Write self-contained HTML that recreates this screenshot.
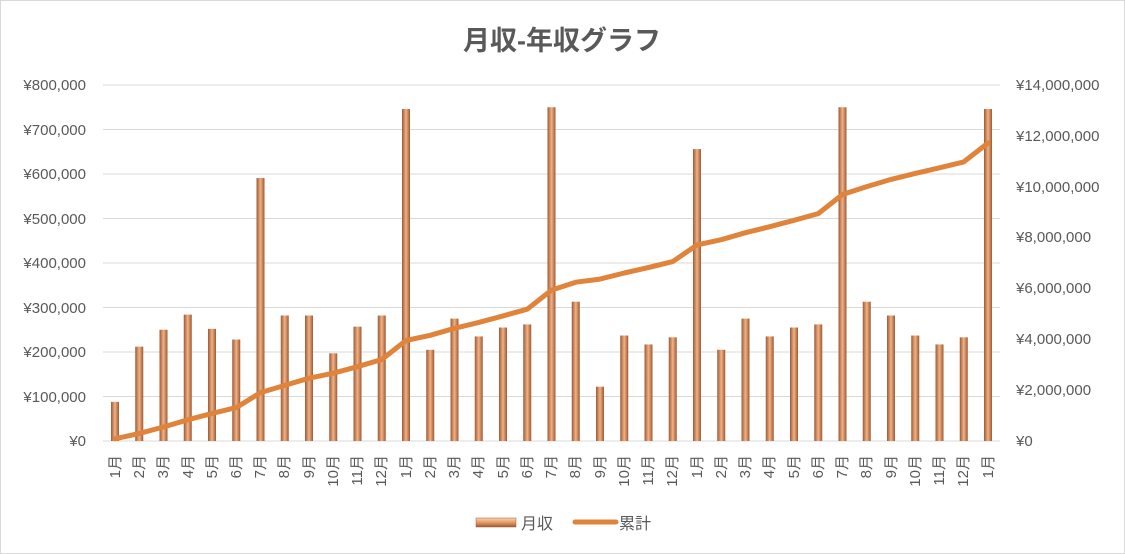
<!DOCTYPE html>
<html><head><meta charset="utf-8"><style>
body{margin:0;background:#fff}
svg{display:block;font-family:"Liberation Sans","Noto Sans CJK JP",sans-serif}
</style></head><body>
<svg id="c" width="1125" height="554" viewBox="0 0 1125 554" xmlns="http://www.w3.org/2000/svg">
<defs>
<linearGradient id="bg" x1="0" x2="1" y1="0" y2="0">
<stop offset="0" stop-color="#9a5a35"/><stop offset="0.5" stop-color="#f4b183"/><stop offset="1" stop-color="#9a5a35"/>
</linearGradient>
<linearGradient id="lg" x1="0" x2="0" y1="0" y2="1">
<stop offset="0" stop-color="#fbd3b0"/><stop offset="0.5" stop-color="#e59a66"/><stop offset="1" stop-color="#9a5a35"/>
</linearGradient>
</defs>
<rect x="0.5" y="0.5" width="1124" height="553" fill="#fff" stroke="#d9d9d9"/>
<text x="562" y="50" text-anchor="middle" font-size="27" font-weight="bold" fill="#595959">月収-年収グラフ</text>
<g id="grid" stroke="#d9d9d9" stroke-width="1"></g>
<g font-size="15" fill="#595959" text-anchor="end">
<text x="86" y="446">¥0</text><text x="86" y="402">¥100,000</text><text x="86" y="357">¥200,000</text><text x="86" y="313">¥300,000</text><text x="86" y="268">¥400,000</text><text x="86" y="224">¥500,000</text><text x="86" y="179">¥600,000</text><text x="86" y="135">¥700,000</text><text x="86" y="90">¥800,000</text>
</g>
<g font-size="15" fill="#595959" text-anchor="start">
<text x="1016" y="446">¥0</text><text x="1016" y="395">¥2,000,000</text><text x="1016" y="344">¥4,000,000</text><text x="1016" y="293">¥6,000,000</text><text x="1016" y="242">¥8,000,000</text><text x="1016" y="192">¥10,000,000</text><text x="1016" y="141">¥12,000,000</text><text x="1016" y="90">¥14,000,000</text>
</g>
<g id="bars"></g>
<polyline id="ln" fill="none" stroke="#e0843c" stroke-width="5" stroke-linejoin="round" stroke-linecap="round"/>
<g id="lab" font-size="15" fill="#595959" text-anchor="end">
<text transform="translate(120,455) rotate(-90)">1月</text><text transform="translate(144,455) rotate(-90)">2月</text><text transform="translate(168,455) rotate(-90)">3月</text><text transform="translate(193,455) rotate(-90)">4月</text><text transform="translate(217,455) rotate(-90)">5月</text><text transform="translate(241,455) rotate(-90)">6月</text><text transform="translate(265,455) rotate(-90)">7月</text><text transform="translate(289,455) rotate(-90)">8月</text><text transform="translate(314,455) rotate(-90)">9月</text><text transform="translate(338,455) rotate(-90)">10月</text><text transform="translate(362,455) rotate(-90)">11月</text><text transform="translate(386,455) rotate(-90)">12月</text>
<text transform="translate(411,455) rotate(-90)">1月</text><text transform="translate(435,455) rotate(-90)">2月</text><text transform="translate(459,455) rotate(-90)">3月</text><text transform="translate(483,455) rotate(-90)">4月</text><text transform="translate(508,455) rotate(-90)">5月</text><text transform="translate(532,455) rotate(-90)">6月</text><text transform="translate(556,455) rotate(-90)">7月</text><text transform="translate(580,455) rotate(-90)">8月</text><text transform="translate(605,455) rotate(-90)">9月</text><text transform="translate(629,455) rotate(-90)">10月</text><text transform="translate(653,455) rotate(-90)">11月</text><text transform="translate(677,455) rotate(-90)">12月</text>
<text transform="translate(702,455) rotate(-90)">1月</text><text transform="translate(726,455) rotate(-90)">2月</text><text transform="translate(750,455) rotate(-90)">3月</text><text transform="translate(774,455) rotate(-90)">4月</text><text transform="translate(799,455) rotate(-90)">5月</text><text transform="translate(823,455) rotate(-90)">6月</text><text transform="translate(847,455) rotate(-90)">7月</text><text transform="translate(871,455) rotate(-90)">8月</text><text transform="translate(896,455) rotate(-90)">9月</text><text transform="translate(920,455) rotate(-90)">10月</text><text transform="translate(944,455) rotate(-90)">11月</text><text transform="translate(968,455) rotate(-90)">12月</text>
<text transform="translate(993,455) rotate(-90)">1月</text>
</g>
<rect x="476" y="518" width="40" height="9" fill="url(#lg)" stroke="#9a5a35" stroke-width="0.5"/>
<text x="521" y="529" font-size="16" fill="#595959">月収</text>
<line x1="575" y1="522" x2="616" y2="522" stroke="#e0843c" stroke-width="5" stroke-linecap="round"/>
<text x="619" y="529" font-size="16" fill="#595959">累計</text>
</svg>
<script>
var v=[88,212,250,284,252,228,591,282,282,197,257,282,746,205,275,235,255,262,750,313,122,237,217,233,656,205,275,235,255,262,750,313,282,237,217,233,746];
var ns="http://www.w3.org/2000/svg",g=document.getElementById('grid'),b=document.getElementById('bars');
for(var i=0;i<=8;i++){var y=441-i*44.5;var l=document.createElementNS(ns,'line');l.setAttribute('x1',103);l.setAttribute('x2',1000);l.setAttribute('y1',y);l.setAttribute('y2',y);g.appendChild(l);}
var pts=[],c=0;
for(var i=0;i<v.length;i++){var x=115+i*24.25;var h=v[i]*0.445;var r=document.createElementNS(ns,'rect');r.setAttribute('x',x-4);r.setAttribute('width',8);r.setAttribute('y',441-h);r.setAttribute('height',h);r.setAttribute('fill','url(#bg)');b.appendChild(r);
c+=v[i];pts.push(x+','+(441-c*356/14000).toFixed(1));}
document.getElementById('ln').setAttribute('points',pts.join(' '));
</script>
</body></html>
